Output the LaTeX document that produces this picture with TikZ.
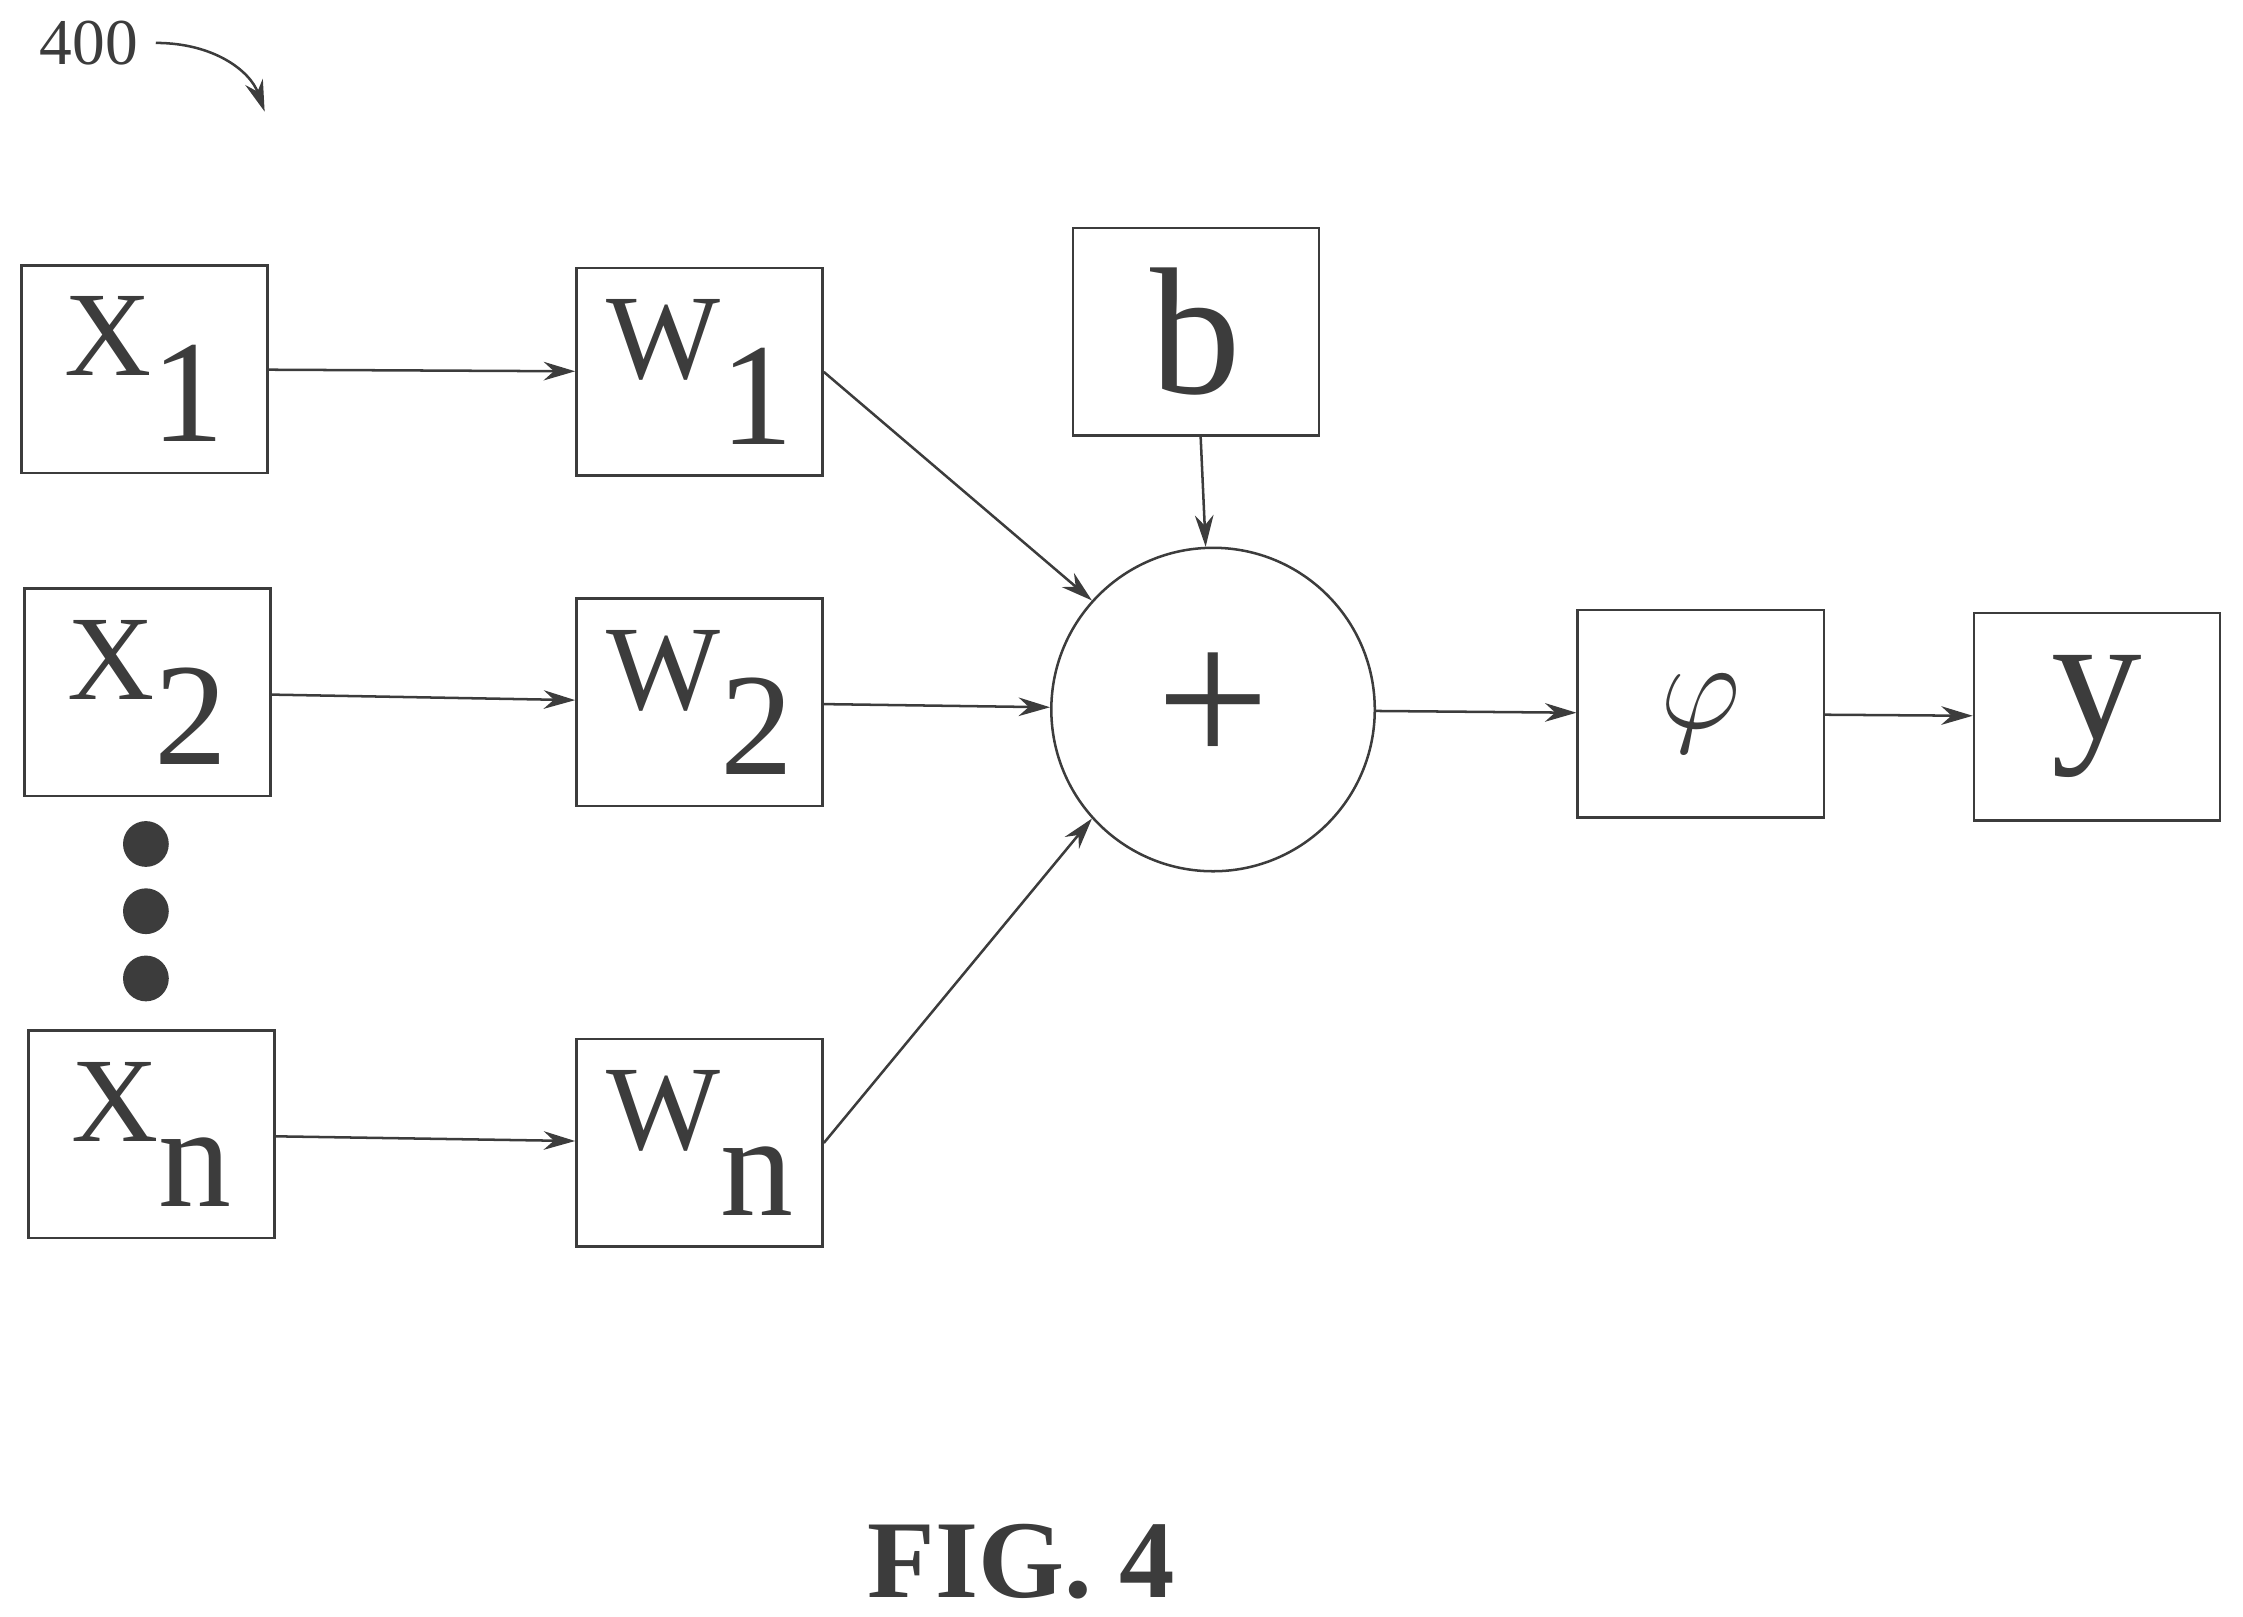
\documentclass[tikz,border=0pt]{standalone}
\usepackage{fontspec}
\setmainfont{Liberation Serif}
\usetikzlibrary{arrows.meta}
\definecolor{mygray}{RGB}{60,60,60}
\newcommand*{\boxlabel}[2]{%
   {\fontsize{24}{24}\selectfont #1}\raisebox{-13pt}{\fontsize{29}{29}\selectfont #2}}
\tikzset{
   blockbox/.style = {draw = mygray, minimum width = 1.72cm, minimum height = 1.45cm,
                      inner sep = 0pt, text = mygray},
   link/.style     = {draw = mygray, -{Stealth[length = 2.2mm, width = 1.3mm]}}
}

\begin{document}
\begin{tikzpicture}[x = 0.01cm, y = -0.01cm, line width = 0.5pt]
   \useasboundingbox (0,0) rectangle (1568,1130);

   % inputs
   \node[blockbox] (x1) at (101,258) {\boxlabel{X}{1}};
   \node[blockbox] (x2) at (103,484) {\boxlabel{X}{2}};
   \node[blockbox] (xn) at (106,793) {\boxlabel{X}{n}};
   \foreach \yy in {590,637,684}
      \fill[mygray] (102,\yy) circle (16);

   % weights
   \node[blockbox] (w1) at (489,260) {\boxlabel{W}{1}};
   \node[blockbox] (w2) at (489,491) {\boxlabel{W}{2}};
   \node[blockbox] (wn) at (489,799) {\boxlabel{W}{n}};

   % bias, sum, activation, output
   \node[blockbox] (b) at (836,232) {\fontsize{36}{36}\selectfont b};
   \node[draw = mygray, circle, minimum size = 2.26cm, inner sep = 0pt] (sum) at (848,496)
      {\fontsize{40}{40}\selectfont\color{mygray}+};
   \node[blockbox] (phi) at (1189,499) {\fontsize{34}{34}\selectfont$\varphi$};
   \node[blockbox] (y) at (1466,501) {\fontsize{36}{36}\selectfont y};

   \draw[link] (x1) -- (w1);
   \draw[link] (x2) -- (w2);
   \draw[link] (xn) -- (wn);
   \draw[link] (w1.east) -- (sum.138);
   \draw[link] (w2) -- (sum);
   \draw[link] (wn.east) -- (sum.222);
   \draw[link] (b) -- (sum);
   \draw[link] (sum) -- (phi);
   \draw[link] (phi) -- (y);

   % reference numeral and caption
   \node[text = mygray, font = \fontsize{13}{13}\selectfont] (ref) at (62,30) {400};
   \coordinate (reftip) at (185,78);
   \draw[link] (ref.east) .. controls (150,30) and (175,50) .. (reftip);
   \node[text = mygray, font = \fontsize{22}{22}\selectfont\bfseries] (fig) at (714,1092) {FIG. 4};
\end{tikzpicture}
\end{document}
